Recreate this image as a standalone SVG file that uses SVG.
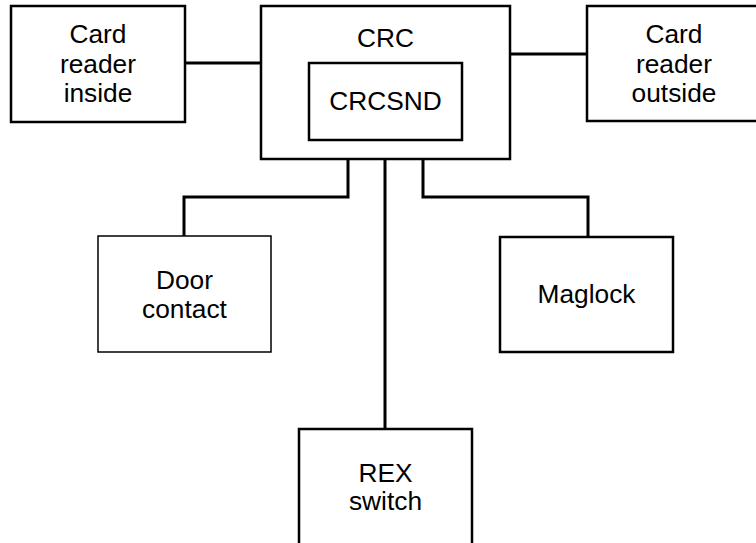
<svg xmlns="http://www.w3.org/2000/svg" width="756" height="543" viewBox="0 0 756 543">
<style>
.box{fill:#fff;stroke:#000;stroke-width:2.5}
.thin{fill:#fff;stroke:#000;stroke-width:1.5}
.lbl{font-family:"Liberation Sans",Arial,sans-serif;font-size:26.3px;fill:#000;text-anchor:middle}
.wire{fill:none;stroke:#000;stroke-width:3}
</style>
<rect width="756" height="543" fill="#fff"/>
<g id="connectors">
<line class="wire" x1="185" y1="63" x2="261" y2="63"/>
<line class="wire" x1="510" y1="54" x2="587" y2="54"/>
<polyline class="wire" points="348,159 348,197 184,197 184,236"/>
<line class="wire" x1="385" y1="159" x2="385" y2="429"/>
<polyline class="wire" points="423,159 423,197 588,197 588,237"/>
</g>
<g id="card-reader-inside">
<rect class="box" x="11" y="6" width="174" height="116"/>
<text class="lbl" x="98" y="43">Card</text>
<text class="lbl" x="98" y="73">reader</text>
<text class="lbl" x="98" y="102">inside</text>
</g>
<g id="crc">
<rect class="box" x="261" y="6" width="249" height="153"/>
<text class="lbl" x="385.5" y="47">CRC</text>
</g>
<g id="crcsnd">
<rect class="box" x="309" y="63" width="153" height="77"/>
<text class="lbl" x="385.5" y="110">CRCSND</text>
</g>
<g id="card-reader-outside">
<rect class="box" x="587" y="6" width="174" height="115"/>
<text class="lbl" x="674" y="43">Card</text>
<text class="lbl" x="674" y="73">reader</text>
<text class="lbl" x="674" y="102">outside</text>
</g>
<g id="door-contact">
<rect class="thin" x="98" y="236" width="173" height="116"/>
<text class="lbl" x="184.5" y="289">Door</text>
<text class="lbl" x="184.5" y="318">contact</text>
</g>
<g id="maglock">
<rect class="box" x="500" y="237" width="173" height="115"/>
<text class="lbl" x="586.5" y="303">Maglock</text>
</g>
<g id="rex-switch">
<rect class="box" x="299" y="429" width="173" height="116"/>
<text class="lbl" x="385.5" y="482">REX</text>
<text class="lbl" x="385.5" y="510">switch</text>
</g>
</svg>
